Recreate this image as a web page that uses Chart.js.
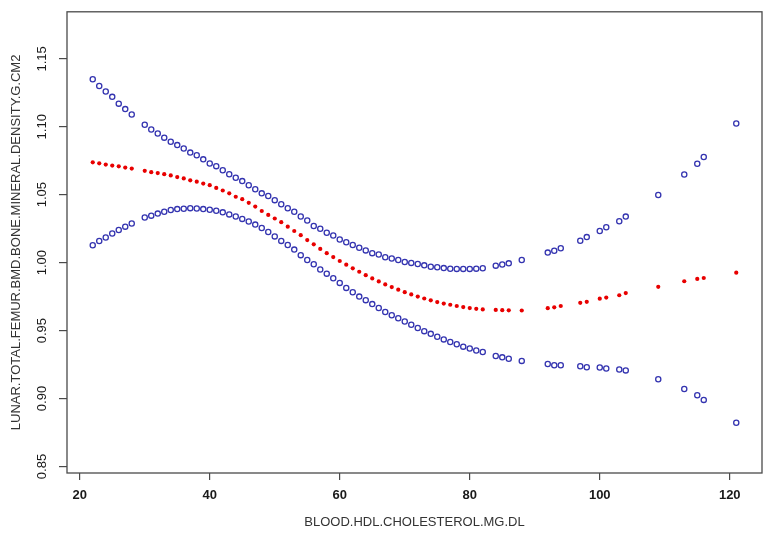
<!DOCTYPE html>
<html>
<head>
<meta charset="utf-8">
<script src="https://cdn.jsdelivr.net/npm/chart.js@4"></script>
<style>
  html, body { margin:0; padding:0; background:#fff; }
  #wrap { width:768px; height:538px; position:relative; }
</style>
</head>
<body>
<div id="wrap"><canvas id="chart"></canvas></div>
<script>
// HDL cholesterol values (x) and the three curves
const hdl = [22,23,24,25,26,27,28,30,31,32,33,34,35,36,37,38,39,40,41,42,43,44,45,46,47,48,49,50,
  51,52,53,54,55,56,57,58,59,60,61,62,63,64,65,66,67,68,69,70,71,72,73,74,75,76,77,78,79,80,81,82,
  84,85,86,88,92,93,94,97,98,100,101,103,104,109,113,115,116,121];

const upper = [1.135,1.130,1.126,1.122,1.117,1.113,1.109,1.1015,1.098,1.095,1.092,1.089,1.0865,1.084,
  1.081,1.079,1.076,1.073,1.071,1.068,1.065,1.0625,1.060,1.057,1.054,1.051,1.049,1.046,1.043,1.040,
  1.0375,1.034,1.031,1.027,1.025,1.022,1.020,1.017,1.015,1.013,1.011,1.009,1.007,1.006,1.004,1.003,
  1.002,1.0005,0.9998,0.999,0.998,0.997,0.9966,0.996,0.9955,0.9954,0.9954,0.9954,0.9956,0.9959,
  0.9978,0.9986,0.9995,1.002,1.0074,1.0087,1.0106,1.0161,1.0188,1.0233,1.026,1.0305,1.0339,1.0498,
  1.0649,1.0728,1.0777,1.1024];

const fit = [1.0738,1.0731,1.0722,1.0714,1.0709,1.070,1.0692,1.0676,1.0666,1.0659,1.0651,1.0642,1.063,
  1.062,1.0606,1.0596,1.0582,1.057,1.055,1.0531,1.051,1.0485,1.0467,1.044,1.0413,1.038,1.0351,1.0325,
  1.0298,1.0265,1.0233,1.0202,1.0166,1.0135,1.0101,1.007,1.0041,1.0012,0.9985,0.9958,0.9933,0.9908,
  0.9884,0.9862,0.984,0.982,0.9801,0.9783,0.9766,0.975,0.9736,0.9723,0.971,0.9699,0.969,0.9681,
  0.9673,0.9666,0.966,0.9656,0.9652,0.9650,0.9649,0.9648,0.9665,0.9671,0.9681,0.9704,0.9712,0.9735,
  0.9743,0.976,0.9776,0.9822,0.9863,0.988,0.9887,0.9926];

const lower = [1.0128,1.0159,1.0185,1.0214,1.024,1.0265,1.0288,1.0332,1.0346,1.0361,1.0375,1.0387,
  1.0394,1.0397,1.0401,1.0399,1.0394,1.0389,1.0382,1.037,1.0355,1.034,1.0322,1.0303,1.028,1.0255,
  1.0226,1.0193,1.016,1.013,1.0096,1.0055,1.002,0.9988,0.995,0.9919,0.9885,0.9851,0.9814,0.9782,
  0.975,0.9724,0.9695,0.9666,0.9637,0.9613,0.9591,0.9567,0.9543,0.9519,0.9496,0.9476,0.9455,0.9435,
  0.9416,0.9399,0.9382,0.9368,0.9353,0.9342,0.9313,0.9303,0.9293,0.9277,0.9254,0.9245,0.9245,0.9238,
  0.923,0.9228,0.9221,0.9214,0.9207,0.9142,0.907,0.9024,0.899,0.8822];

const xTicks = [20,40,60,80,100,120];
const yTicks = [0.85,0.90,0.95,1.00,1.05,1.10,1.15];

const xTitle = 'BLOOD.HDL.CHOLESTEROL.MG.DL';
const yTitle = 'LUNAR.TOTAL.FEMUR.BMD.BONE.MINERAL.DENSITY.G.CM2';

const blue = '#3434b0';
const red = '#e80000';
const frameColor = '#4a4a4a';
const font = '"Liberation Sans", Arial, sans-serif';

const toPts = (ys) => hdl.map((x, i) => ({ x, y: ys[i] }));

// R-style full box around the plot region
const boxPlugin = {
  id: 'box',
  afterDraw(chart){
    const {ctx, chartArea:a} = chart;
    ctx.save();
    ctx.strokeStyle = frameColor;
    ctx.lineWidth = 1.3;
    ctx.strokeRect(a.left, a.top, a.right - a.left, a.bottom - a.top);
    ctx.restore();
  }
};

new Chart(document.getElementById('chart'), {
  type: 'scatter',
  data: {
    datasets: [
      { label:'upper', data: toPts(upper), pointRadius:2.6, pointBorderWidth:1.3,
        pointBorderColor: blue, pointBackgroundColor:'rgba(0,0,0,0)' },
      { label:'lower', data: toPts(lower), pointRadius:2.6, pointBorderWidth:1.3,
        pointBorderColor: blue, pointBackgroundColor:'rgba(0,0,0,0)' },
      { label:'fit', data: toPts(fit), pointRadius:2.1, pointBorderWidth:0,
        pointBackgroundColor: red, pointBorderColor: red }
    ]
  },
  options: {
    responsive: true,
    maintainAspectRatio: false,
    animation: false,
    events: [],
    layout: { padding: { top:2, right:6, left:0, bottom:0 } },
    plugins: { legend:{ display:false }, tooltip:{ enabled:false } },
    scales: {
      x: {
        type:'linear', min:18.04, max:124.96,
        afterBuildTicks(s){ s.ticks = xTicks.map(v => ({ value:v })); },
        afterFit(s){ s.height = 65; },
        border:{ display:false },
        grid:{ drawOnChartArea:false, drawTicks:true, tickLength:7, color:frameColor, lineWidth:1.2 },
        ticks:{ padding:8, color:'#1a1a1a', font:{ family:font, size:13, weight:'bold' }, maxRotation:0 },
        title:{ display:true, text:xTitle, color:'#333', padding:{ top:0, bottom:8 },
          font:{ family:font, size:13 } }
      },
      y: {
        type:'linear', min:0.8452, max:1.1846,
        afterBuildTicks(s){ s.ticks = yTicks.map(v => ({ value:v })); },
        afterFit(s){ s.width = 67; },
        border:{ display:false },
        grid:{ drawOnChartArea:false, drawTicks:true, tickLength:8, color:frameColor, lineWidth:1.2 },
        ticks:{ padding:4, color:'#1a1a1a', minRotation:90, maxRotation:90, crossAlign:'center',
          font:{ family:font, size:13 }, callback: v => v.toFixed(2) },
        title:{ display:true, text:yTitle, color:'#333', padding:{ top:9, bottom:0 },
          font:{ family:font, size:13 } }
      }
    }
  },
  plugins: [boxPlugin]
});
</script>
</body>
</html>
